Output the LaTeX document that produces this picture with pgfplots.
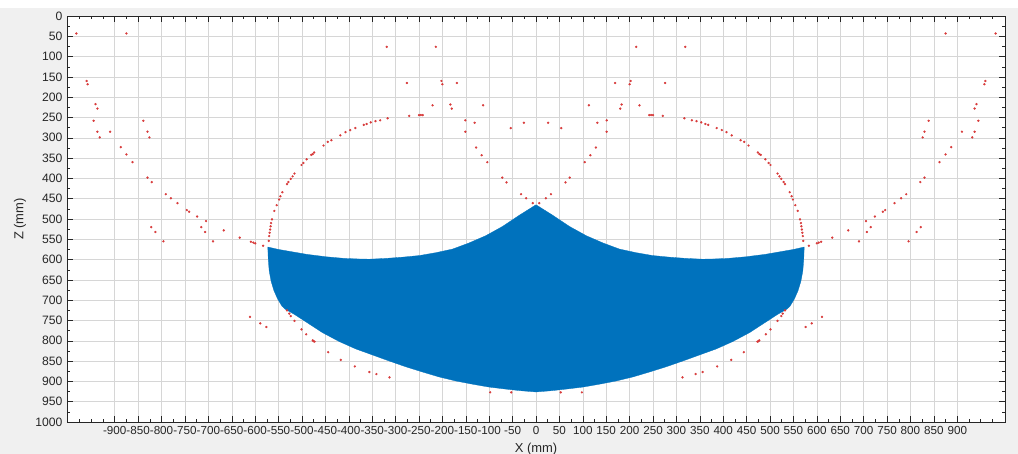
\documentclass[border=0pt]{standalone}
\usepackage{pgfplots}
\pgfplotsset{compat=1.18}
\usepackage{fontspec}
\setmainfont{Liberation Sans}
\definecolor{figbg}{HTML}{F0F0F0}
\definecolor{mblue}{HTML}{0072BD}
\definecolor{axcol}{HTML}{262626}
\definecolor{gridc}{HTML}{D6D6D6}
\definecolor{dotred}{HTML}{D83A3A}
\begin{document}
\begin{tikzpicture}
\useasboundingbox (0,0) rectangle (1018bp,454bp);
\fill[figbg] (0,0) rectangle (1018bp,446bp);
\fill[white] (0,446bp) rectangle (1018bp,454bp);
\begin{axis}[
  at={(67bp,32bp)}, anchor=south west,
  scale only axis, width=938bp, height=406bp,
  xmin=-1002, xmax=1002, ymin=0, ymax=1000, y dir=reverse,
  axis background/.style={fill=white},
  xtick={-900,-850,...,900},
  minor xtick={-975,-950,...,975},
  ytick={0,50,...,1000},
  minor ytick={25,75,...,975},
  grid=major,
  major grid style={gridc, line width=0.5bp},
  axis line style={axcol, line width=0.6bp},
  tick style={axcol, line width=0.5bp},
  major tick length=6bp, minor tick length=3bp,
  every tick label/.append style={text=axcol},
  xticklabel style={yshift=-1bp, font=\fontsize{11.7}{13}\selectfont},
  yticklabel style={xshift=-1bp, font=\fontsize{12.2}{14}\selectfont},
  /pgf/number format/assume math mode=true,
  /pgf/number format/1000 sep={},
  xlabel={X (mm)}, ylabel={Z (mm)},
  label style={font=\fontsize{13}{15}\selectfont, text=axcol},
  xlabel style={at={(axis description cs:0.5,-0.066)}, anchor=center},
  ylabel style={at={(axis description cs:-0.0501,0.5)}, anchor=center},
]
% blue region
\addplot[fill=mblue, draw=mblue, line width=0.3bp] coordinates {
(-573,569) (-550,575) (-520,581) (-490,587) (-449,593) (-410,597) (-378,598.5) (-356,599)
(-320,597) (-285,594) (-249,590) (-214,583) (-178,574) (-143,559) (-107,541) (-71,518)
(-36,491) (0,465)
(36,491) (71,518) (107,541) (143,559) (178,574) (214,583) (249,590) (285,594) (320,597)
(356,599) (378,598.5) (410,597) (449,593) (490,587) (520,581) (550,575) (573,569)
(572,600) (570,628) (566,653) (560,676) (552,697) (543,714) (536,722)
(516,735) (500,747) (480,762) (456,780) (420,802) (385,820) (349,835) (313,850)
(278,864) (242,877) (207,889) (171,899) (135,907) (100,914) (64,919) (32,923) (0,926)
(-32,923) (-64,919) (-100,914) (-135,907) (-171,899) (-207,889) (-242,877) (-278,864)
(-313,850) (-349,835) (-385,820) (-420,802) (-456,780) (-480,762) (-500,747) (-516,735)
(-536,722) (-543,714) (-552,697) (-560,676) (-566,653) (-570,628) (-572,600)
} -- cycle;
% red dots
\addplot[only marks, mark=*, mark size=0.95bp, color=dotred, mark options={draw=none}] coordinates {
(-982,43) (-875,43) (-319,76) (-214,76)
(-960,160) (-958,168) (-941,217) (-937,228)
(-945,258) (-937,285) (-932,299) (-910,285)
(-887,323) (-875,341) (-862,360)
(-839,258) (-830,285) (-826,299)
(-830,398) (-821,409)
(-791,439) (-780,449) (-766,461) (-746,478) (-741,482) (-724,494) (-705,505)
(-822,520) (-813,532) (-796,555)
(-715,520) (-707,532) (-690,555)
(-667,528) (-633,546) (-609,556) (-604,558) (-600,560) (-583,566)
(-571,554) (-570,542) (-569,534) (-568,526) (-567,518) (-566,510) (-564,501)
(-559,480) (-554,466) (-549,452) (-546,444) (-542,434)
(-532,414) (-529,409) (-524,401) (-520,395) (-516,388)
(-501,367) (-497,362) (-490,353)
(-480,342) (-477,340) (-474,336)
(-454,319) (-445,310) (-437,306)
(-418,294) (-407,286) (-397,281) (-386,276)
(-368,268) (-362,266) (-353,262) (-343,259) (-333,257)
(-317,252) (-271,246) (-250,244) (-246,244) (-242,244)
(-276,165) (-202,160) (-200,168) (-169,165)
(-221,220) (-183,218) (-180,228) (-113,220)
(-151,257) (-151,285) (-131,263)
(-128,324) (-116,343) (-104,360)
(-72,398) (-63,410)
(-54,276) (-26,263)
(-32,439) (-21,449) (-7,461)
(-611,741) (-589,757) (-576,766)
(-532,725) (-527,733) (-524,739) (-516,751) (-501,772) (-491,784) (-477,799) (-475,801) (-473,802)
(-444,828) (-417,847) (-387,863) (-356,877) (-341,882) (-313,890)
(-98,927) (-53,927)
(982,43) (875,43) (319,76) (214,76)
(960,160) (958,168) (941,217) (937,228)
(945,258) (937,285) (932,299) (910,285)
(887,323) (875,341) (862,360)
(839,258) (830,285) (826,299)
(830,398) (821,409)
(791,439) (780,449) (766,461) (746,478) (741,482) (724,494) (705,505)
(822,520) (813,532) (796,555)
(715,520) (707,532) (690,555)
(667,528) (633,546) (609,556) (604,558) (600,560) (583,566)
(571,554) (570,542) (569,534) (568,526) (567,518) (566,510) (564,501)
(559,480) (554,466) (549,452) (546,444) (542,434)
(532,414) (529,409) (524,401) (520,395) (516,388)
(501,367) (497,362) (490,353)
(480,342) (477,340) (474,336)
(454,319) (445,310) (437,306)
(418,294) (407,286) (397,281) (386,276)
(368,268) (362,266) (353,262) (343,259) (333,257)
(317,252) (271,246) (250,244) (246,244) (242,244)
(276,165) (202,160) (200,168) (169,165)
(221,220) (183,218) (180,228) (113,220)
(151,257) (151,285) (131,263)
(128,324) (116,343) (104,360)
(72,398) (63,410)
(54,276) (26,263)
(32,439) (21,449) (7,461)
(611,741) (589,757) (576,766)
(532,725) (527,733) (524,739) (516,751) (501,772) (491,784) (477,799) (475,801) (473,802)
(444,828) (417,847) (387,863) (356,877) (341,882) (313,890)
(98,927) (53,927)
};
\end{axis}
\end{tikzpicture}
\end{document}
